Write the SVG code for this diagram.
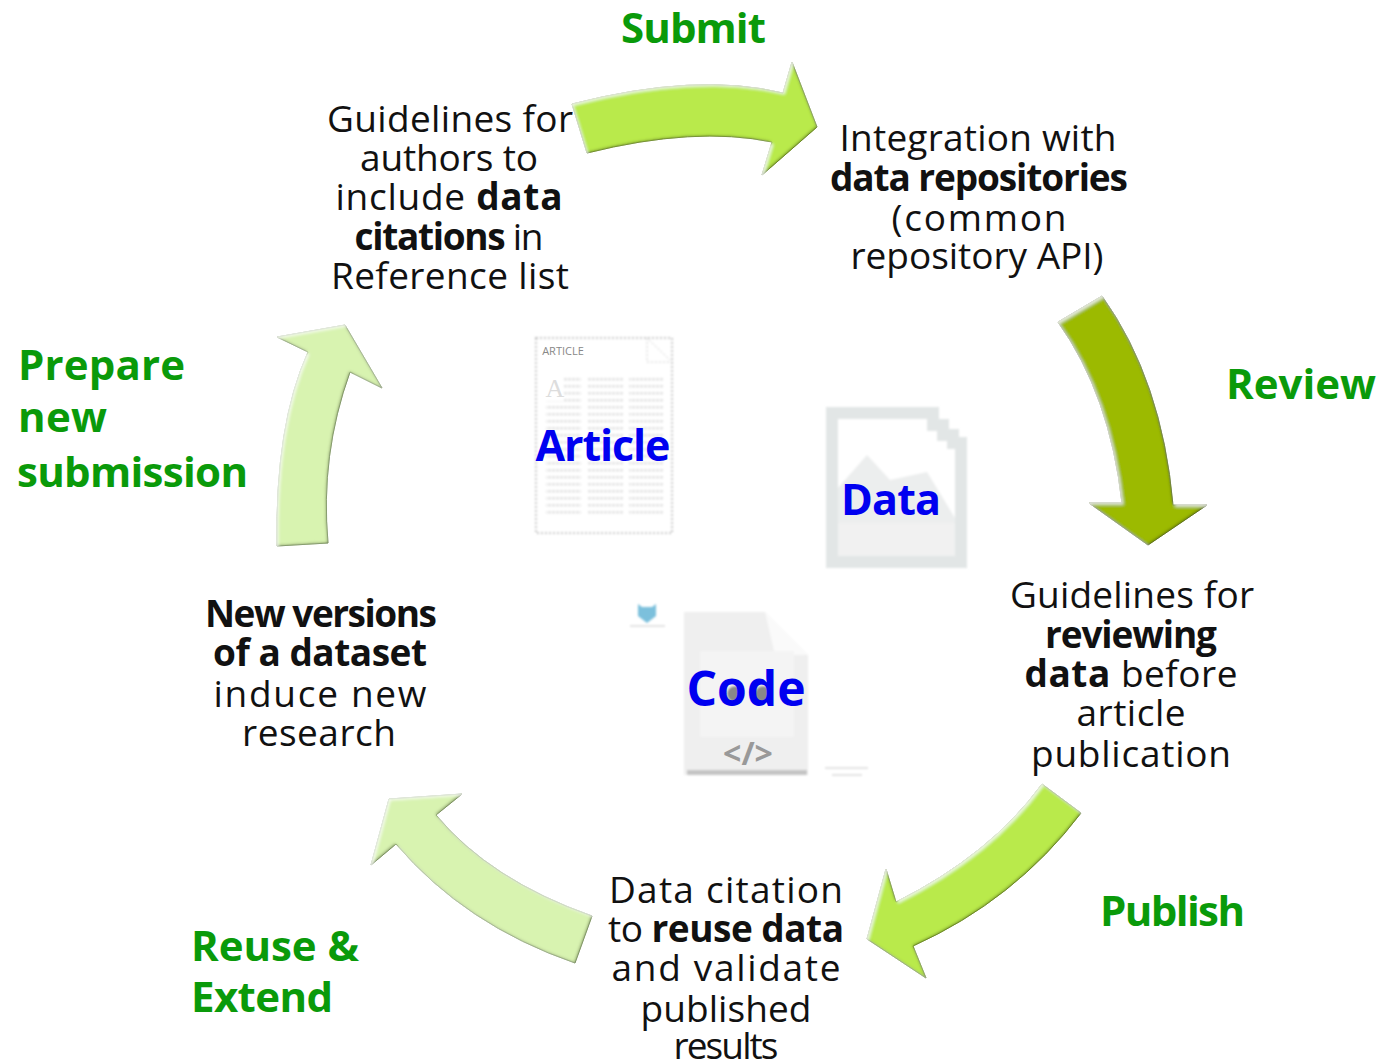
<svg xmlns="http://www.w3.org/2000/svg" width="1381" height="1062" viewBox="0 0 1381 1062">
<style>
text{font-family:"Open Sans","Liberation Sans",sans-serif;fill:#111;font-size:37px;text-anchor:middle}
.b{font-weight:700}
.g{font-size:42px;font-weight:700;fill:#0a9a0a;text-anchor:start}
.c{font-size:43px;font-weight:700;fill:#0000f0}
.a1{fill:#b9ea4b;stroke:#8fb530;stroke-width:1}
.a2{fill:#9cba00;stroke:#7d9500;stroke-width:1}
.a3{fill:#d8f3b0;stroke:#a9c48b;stroke-width:1}
</style>
<defs>
<filter id="bevel" x="-5%" y="-5%" width="110%" height="110%">
<feGaussianBlur in="SourceAlpha" stdDeviation="1.4" result="bl"/>
<feOffset in="bl" dx="-1.5" dy="-1.5" result="o1"/>
<feComposite in="SourceAlpha" in2="o1" operator="out" result="in1"/>
<feFlood flood-color="#3c4a10" flood-opacity=".75"/>
<feComposite in2="in1" operator="in" result="dark"/>
<feOffset in="bl" dx="1.5" dy="1.5" result="o2"/>
<feComposite in="SourceAlpha" in2="o2" operator="out" result="in2"/>
<feFlood flood-color="#ffffff" flood-opacity=".7"/>
<feComposite in2="in2" operator="in" result="light"/>
<feMerge><feMergeNode in="SourceGraphic"/><feMergeNode in="dark"/><feMergeNode in="light"/></feMerge>
</filter>
<filter id="soft"><feGaussianBlur stdDeviation=".8"/></filter>
<pattern id="cols" width="4" height="7" patternUnits="userSpaceOnUse"><rect width="3" height="2.5" fill="#e2e2e2"/></pattern>
</defs>
<rect width="1381" height="1062" fill="#fff"/>
<g id="node-guidelines"><text x="450" y="132" textLength="246">Guidelines for</text><text x="449" y="171" textLength="178">authors to</text><text x="449" y="210" textLength="227">include <tspan class="b">data</tspan></text><text x="449" y="250" textLength="189"><tspan class="b">citations</tspan> in</text><text x="450" y="289" textLength="238">Reference list</text></g>
<g id="node-integration"><text x="978" y="151" textLength="277">Integration with</text><text class="b" x="979" y="191" textLength="298">data repositories</text><text x="979" y="231" textLength="175">(common</text><text x="977" y="269" textLength="253">repository API)</text></g>
<g id="node-review"><text x="1132" y="608" textLength="244">Guidelines for</text><text class="b" x="1131" y="648" textLength="172">reviewing</text><text x="1131" y="687" textLength="213"><tspan class="b">data</tspan> before</text><text x="1131" y="726" textLength="109">article</text><text x="1131" y="767" textLength="200">publication</text></g>
<g id="node-citation"><text x="726" y="903" textLength="234">Data citation</text><text x="726" y="942" textLength="236">to <tspan class="b">reuse data</tspan></text><text x="726" y="981" textLength="229">and validate</text><text x="726" y="1022" textLength="171">published</text><text x="726" y="1059" textLength="105">results</text></g>
<g id="node-versions"><text class="b" x="321" y="627" textLength="232">New versions</text><text class="b" x="320" y="666" textLength="214">of a dataset</text><text x="320" y="707" textLength="213">induce new</text><text x="319" y="746" textLength="154">research</text></g>
<g id="connectors" filter="url(#bevel)">
<path class="a1" d="M572 104Q697 72 783 93L792 62L817 127L762 175L772 142Q695 126 587 153Z"/>
<path class="a2" d="M1058 322L1102 296Q1162 380 1173 505H1207L1148 545L1089 503H1122Q1110 395 1058 322Z"/>
<path class="a1" d="M1042 784L1081 813Q1015 900 913 946L926 978L867 939L886 869L896 902Q990 855 1042 784Z"/>
<path class="a3" d="M592 916L575 963Q465 925 396 844L371 865L389 799L462 794L436 815Q490 880 592 916Z"/>
<path class="a3" d="M277 546Q275 425 308 352L277 337L345 325L382 388L350 372Q320 455 328 543Z"/>
</g>
<g id="labels"><text class="g" x="621" y="43" textLength="145">Submit</text><text class="g" x="1226" y="399" textLength="150">Review</text><text class="g" x="1100" y="926" textLength="145">Publish</text><text class="g" x="191" y="961" textLength="168">Reuse &amp;</text><text class="g" x="191" y="1012" textLength="142">Extend</text><text class="g" x="18" y="380" textLength="167">Prepare</text><text class="g" x="18" y="432" textLength="89">new</text><text class="g" x="17" y="487" textLength="231">submission</text></g>
<g id="icon-article"><g filter="url(#soft)"><rect x="536" y="338" width="136" height="195" fill="#fff" stroke="#c4c4c4" stroke-width="2" stroke-dasharray="2 2"/><path d="M647 338V362H672M649 340L670 360" fill="none" stroke="#ccc" stroke-dasharray="2 2"/><rect x="546" y="377" width="35" height="140" fill="url(#cols)"/><rect x="587" y="377" width="36" height="140" fill="url(#cols)"/><rect x="629" y="377" width="35" height="140" fill="url(#cols)"/><rect x="546" y="377" width="18" height="24" fill="#fff"/></g><text x="555" y="397" style="font-size:26px;fill:#ddd;font-family:'Liberation Serif',serif">A</text><text x="563" y="355" style="font-size:11px;fill:#888">ARTICLE</text><text class="c" x="603" y="461" textLength="135">Article</text></g>
<g id="icon-data"><g filter="url(#soft)"><path d="M832 413H933V425H943V435H953V443H961V562H832Z" fill="#fff" stroke="#e2e6e6" stroke-width="12"/><path d="M838 488L867 455L890 480L927 472L955 518V556H838Z" fill="#eceeee"/><path d="M838 523H955V556H838Z" fill="#f1f1f1"/></g><text class="c" x="891" y="515" textLength="100">Data</text></g>
<g id="icon-code"><g filter="url(#soft)"><path d="M684 612H765L808 655V775H684Z" fill="#efefef"/><path d="M765 612L808 655H775Z" fill="#fafafa"/><rect x="700" y="651" width="94" height="86" fill="#f4f4f4"/><rect x="687" y="770" width="120" height="5" fill="#c4c4c4"/><circle cx="735" cy="694" r="8" fill="#888"/><circle cx="763" cy="694" r="8" fill="#888"/></g><text x="748" y="765" style="font-size:32px;font-weight:700;fill:#999">&lt;/&gt;</text><text class="c" style="font-size:48px" x="746" y="706" textLength="119">Code</text></g>
<g id="icon-badge" filter="url(#soft)"><path d="M638 604L642 607H652L656 604V616L647 623L638 616Z" fill="#7cc0dc"/><path d="M630 626H665M825 768H868M832 775H862" stroke="#dcdcdc" stroke-width="1.5" fill="none"/></g>
</svg>
